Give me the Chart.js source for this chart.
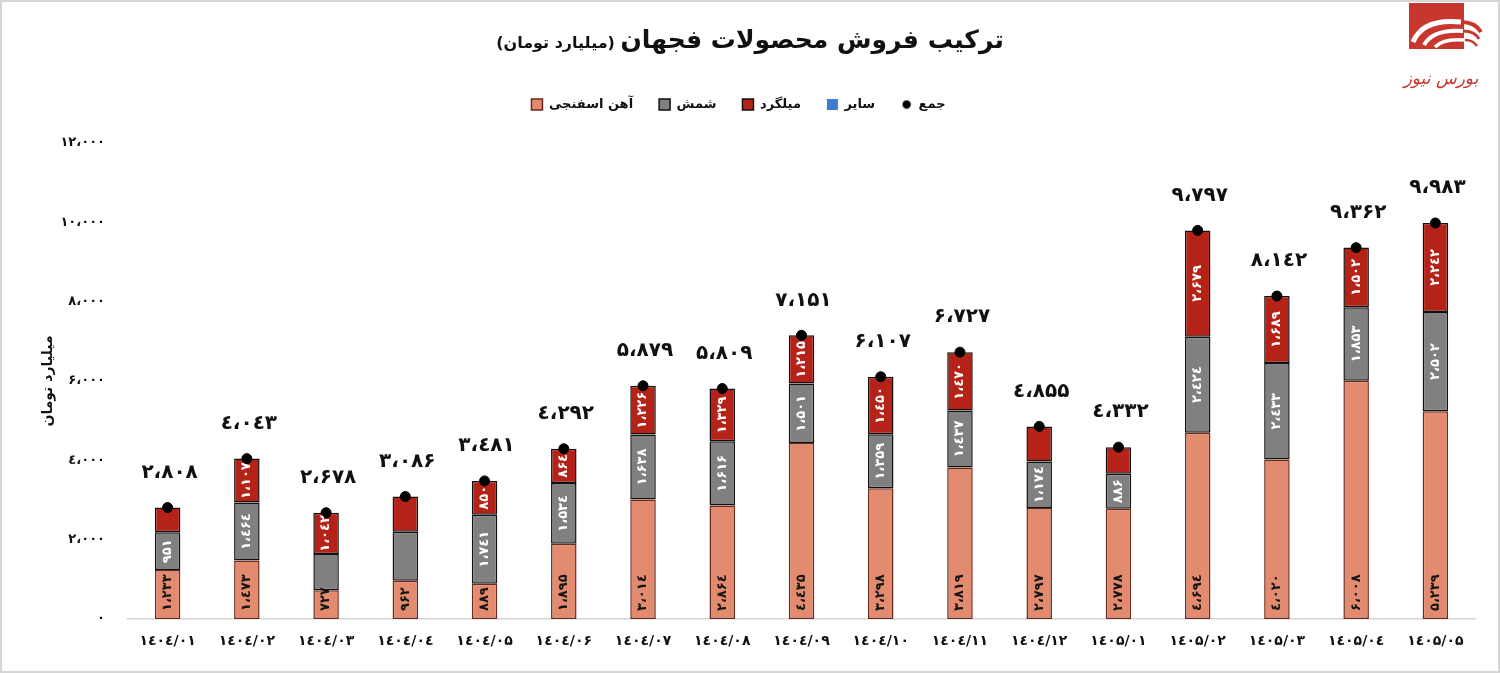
<!DOCTYPE html>
<html><head><meta charset="utf-8">
<script src="https://cdn.jsdelivr.net/npm/chart.js@4.4.1/dist/chart.umd.min.js"></script>
<style>
html,body{margin:0;padding:0;background:#fff;}
#wrap{position:relative;width:1500px;height:673px;box-sizing:border-box;border:2px solid #d6d6d6;overflow:hidden;background:#fff;}
#c{position:absolute;left:0;top:0;}
#title{position:absolute;top:23px;left:0;width:1496px;text-align:center;direction:rtl;font-family:'DejaVu Sans',sans-serif;font-weight:bold;color:#111;white-space:nowrap;}
#title .main{font-size:25px;}
#title .sub{font-size:16px;}
#logo{position:absolute;left:1395px;top:0;}
</style></head>
<body>
<div id="wrap">
<canvas id="c" width="1496" height="669"></canvas>
<div id="title"><span class="main">ترکیب فروش محصولات فجهان</span> <span class="sub">(میلیارد تومان)</span></div>
<svg id="logo" width="100" height="100" viewBox="0 0 100 100">
  <rect x="12" y="1" width="55" height="46" fill="#C8372D"/>
  <path d="M16 40 Q26 16 64 20" stroke="#fff" stroke-width="5" fill="none"/>
  <path d="M27 43 Q36 27 66 29" stroke="#fff" stroke-width="4" fill="none"/>
  <path d="M38 45 Q46 36 68 38" stroke="#fff" stroke-width="3.5" fill="none"/>
  <path d="M64 20 Q78 20 84 30" stroke="#C8372D" stroke-width="4" fill="none"/>
  <path d="M66 29 Q78 29 82 37" stroke="#C8372D" stroke-width="3" fill="none"/>
  <path d="M68 38 Q76 38 80 44" stroke="#C8372D" stroke-width="2.5" fill="none"/>
  <text x="44" y="82" text-anchor="middle" font-family="DejaVu Sans" font-style="italic" font-size="17" fill="#C8372D" direction="rtl">بورس نیوز</text>
</svg>
</div>
<script>
// ---- data ----
const categories = ['۱٤۰٤/۰۱','۱٤۰٤/۰۲','۱٤۰٤/۰۳','۱٤۰٤/۰٤','۱٤۰٤/۰۵','۱٤۰٤/۰۶','۱٤۰٤/۰۷','۱٤۰٤/۰۸','۱٤۰٤/۰۹','۱٤۰٤/۱۰','۱٤۰٤/۱۱','۱٤۰٤/۱۲','۱٤۰۵/۰۱','۱٤۰۵/۰۲','۱٤۰۵/۰۳','۱٤۰۵/۰٤','۱٤۰۵/۰۵'];
const spongeIron = [1233,1473,727,962,889,1895,3014,2864,4435,3298,3819,2797,2778,4694,4020,6008,5239];
const billet     = [951,1464,909,1240,1741,1534,1638,1616,1501,1359,1437,1174,886,2424,2433,1853,2502];
const rebar      = [624,1107,1042,884,850,864,1226,1329,1215,1450,1470,884,668,2679,1689,1502,2242];
const other      = [0,0,0,0,0,0,0,0,0,0,0,0,0,0,0,0,0];
const totals     = [2808,4043,2678,3086,3481,4292,5879,5809,7151,6107,6727,4855,4332,9797,8142,9362,9983];
const yTicks     = [0,2000,4000,6000,8000,10000,12000];
const seriesNames = ['آهن اسفنجی','شمش','میلگرد','سایر','جمع'];
const unlabeledBillet = [2,3];
const unlabeledRebar  = [0,3,11,12];

const FONT = "'DejaVu Sans', sans-serif";
const faDigits = ['۰','۱','۲','۳','٤','۵','۶','۷','۸','۹'];
function fa(n){
  const s = Math.round(n).toString().replace(/\B(?=(\d{3})+(?!\d))/g, '،');
  return '\u202D' + s.replace(/\d/g, d => faDigits[+d]) + '\u202C';
}
function lro(s){ return '\u202D' + s + '\u202C'; }

const dot = document.createElement('canvas');
dot.width = 10; dot.height = 10;
(function(){ const c = dot.getContext('2d'); c.fillStyle = '#000'; c.beginPath(); c.arc(5,5,4.2,0,Math.PI*2); c.fill(); })();

const labelsPlugin = {
  id: 'segLabels',
  afterDatasetsDraw(chart){
    const ctx = chart.ctx;
    const cfg = [
      {di:0, color:'#141414', base:true, skip:[]},
      {di:1, color:'#ffffff', base:false, skip:unlabeledBillet},
      {di:2, color:'#ffffff', base:false, skip:unlabeledRebar}
    ];
    cfg.forEach(c => {
      const meta = chart.getDatasetMeta(c.di);
      const data = chart.data.datasets[c.di].data;
      meta.data.forEach((el, j) => {
        if (c.skip.includes(j)) return;
        ctx.save();
        ctx.font = 'bold 13px ' + FONT;
        ctx.fillStyle = c.color;
        ctx.textBaseline = 'middle';
        if (c.base) {
          ctx.translate(el.x, el.base - 8);
          ctx.rotate(-Math.PI/2);
          ctx.textAlign = 'left';
        } else {
          ctx.translate(el.x, (el.y + el.base)/2);
          ctx.rotate(-Math.PI/2);
          ctx.textAlign = 'center';
        }
        ctx.fillText(fa(data[j]), 0, 0);
        ctx.restore();
      });
    });
    const tm = chart.getDatasetMeta(4);
    tm.data.forEach((pt, j) => {
      ctx.save();
      ctx.font = 'bold 20px ' + FONT;
      ctx.fillStyle = '#111';
      ctx.textAlign = 'center';
      ctx.textBaseline = 'middle';
      ctx.fillText(fa(totals[j]), pt.x + 2, pt.y - 35);
      ctx.restore();
    });
  }
};

const legendHeight = {
  id: 'legendHeight',
  beforeInit(chart){
    const orig = chart.legend.fit;
    chart.legend.fit = function(){ orig.bind(chart.legend)(); this.height = 71; };
  }
};

new Chart(document.getElementById('c'), {
  data: {
    labels: categories,
    datasets: [
      {type:'bar', label: seriesNames[0], data: spongeIron, backgroundColor:'#E38B6F', borderColor:'#6B2A1E', borderWidth:1.5, borderSkipped:false, stack:'s', order:1},
      {type:'bar', label: seriesNames[1], data: billet, backgroundColor:'#808080', borderColor:'#111', borderWidth:1.5, borderSkipped:false, stack:'s', order:1},
      {type:'bar', label: seriesNames[2], data: rebar, backgroundColor:'#B52218', borderColor:'#111', borderWidth:1.5, borderSkipped:false, stack:'s', order:1},
      {type:'bar', label: seriesNames[3], data: other, backgroundColor:'#3B7DD0', borderColor:'#3B7DD0', borderWidth:0, stack:'s', order:1},
      {type:'line', label: seriesNames[4], data: totals, showLine:false, pointRadius:5, pointHoverRadius:5, pointBackgroundColor:'#000', pointBorderColor:'#000', borderColor:'#000', backgroundColor:'#000', stack:'t', order:0}
    ]
  },
  options: {
    responsive:false,
    animation:false,
    layout:{padding:{left:0,right:23,top:70,bottom:0}},
    datasets:{bar:{barPercentage:1, categoryPercentage:0.322}},
    plugins:{
      tooltip:{enabled:false},
      title:{display:false},
      legend:{
        position:'top',
        labels:{
          usePointStyle:true,
          boxWidth:11, boxHeight:11,
          padding:26,
          color:'#111',
          font:{family:FONT, size:13, weight:'bold'},
          generateLabels(chart){
            const items = Chart.defaults.plugins.legend.labels.generateLabels(chart);
            items.sort((a,b)=>a.datasetIndex-b.datasetIndex);
            items.forEach(it => { it.pointStyle = it.datasetIndex === 4 ? dot : 'rect'; });
            return items;
          }
        }
      }
    },
    scales:{
      x:{
        stacked:true,
        grid:{display:false, drawTicks:false},
        border:{display:true, color:'#d4d4d4', width:1.5},
        ticks:{padding:14, color:'#111', font:{family:FONT, size:14, weight:'bold'}, callback:(v,i)=>lro(categories[i]), maxRotation:0, autoSkip:false},
        afterFit(s){ s.height = 52; }
      },
      y:{
        stacked:true,
        min:0, max:12000,
        afterBuildTicks(s){ s.ticks = yTicks.map(v=>({value:v})); },
        grid:{display:false, drawTicks:false},
        border:{display:false},
        ticks:{padding:23, color:'#111', font:{family:FONT, size:13, weight:'bold'}, callback:(v)=>fa(v)},
        title:{display:true, text:'میلیارد تومان', color:'#111', font:{family:FONT, size:14, weight:'bold'}, padding:{top:38,bottom:0}},
        afterFit(s){ s.width = 126; }
      }
    }
  },
  plugins:[labelsPlugin, legendHeight]
});
</script>
</body></html>
